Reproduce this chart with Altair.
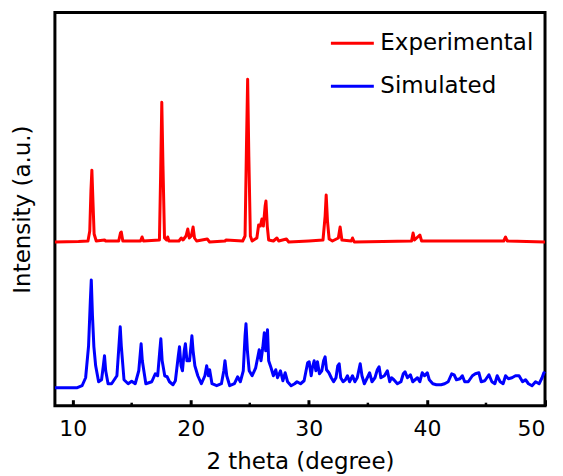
import altair as alt
import pandas as pd

# Experimental pattern: 2theta (degree) and intensity (a.u., offset upward)
exp_x = [8.5, 10.5, 11.3, 11.45, 11.55, 11.63, 11.72, 11.82, 12.0, 12.7, 12.8, 13.9, 14.05, 14.12, 14.25,
         15.75, 15.88, 16.0, 17.35, 17.45, 17.55, 17.65, 17.78, 17.95, 18.05, 18.15, 19.0, 19.2, 19.35,
         19.6, 19.75, 19.88, 20.05, 20.2, 20.32, 20.5, 21.4, 21.6, 22.9, 23.0, 24.4, 24.6, 24.72, 24.82,
         24.92, 25.05, 25.2, 25.6, 25.75, 25.9, 26.03, 26.15, 26.3, 26.37, 26.48, 26.6, 27.0, 27.3, 27.45,
         28.1, 28.3, 30.0, 31.2, 31.38, 31.47, 31.58, 31.72, 32.0, 32.5, 32.65, 32.8, 33.6, 33.7, 33.85,
         38.7, 38.83, 38.95, 39.4, 39.55, 46.5, 46.66, 46.8, 50.0]
exp_y = [164, 164.5, 165, 175, 215, 236, 205, 172, 165, 166, 165, 165, 173, 174, 165,
         165, 169, 165, 166, 230, 304, 240, 168, 166, 169, 165, 165, 168, 166,
         170, 177, 168, 170, 179, 168, 165, 167, 164, 165, 166, 165, 170, 260, 327,
         250, 170, 165, 168, 181, 180, 187, 180, 200, 205, 180, 166, 165, 168, 165,
         167, 164, 165, 166, 190, 211, 185, 167, 165, 168, 179, 166, 165, 168, 164,
         165, 173, 166, 171, 165, 165, 169, 165, 164]

# Simulated pattern
sim_x = [8.5, 10.4, 10.8, 11.1, 11.35, 11.5, 11.58, 11.68, 11.8, 11.95, 12.2, 12.45, 12.6, 12.7, 12.8,
         13.0, 13.3, 13.75, 13.95, 14.03, 14.12, 14.35, 14.7, 15.0, 15.3, 15.6, 15.8, 15.9, 16.2, 16.7,
         17.0, 17.2, 17.38, 17.47, 17.58, 17.8, 18.0, 18.2, 18.5, 18.7, 18.95, 19.05, 19.18, 19.3, 19.45,
         19.55, 19.68, 19.9, 20.1, 20.2, 20.35, 20.45, 20.6, 20.9, 21.2, 21.35, 21.5, 21.6, 21.8, 22.2,
         22.6, 22.8, 22.9, 23.05, 23.3, 23.7, 23.97, 24.2, 24.45, 24.6, 24.68, 24.8, 24.95, 25.2, 25.5,
         25.8, 25.95, 26.1, 26.23, 26.35, 26.5, 26.6, 26.8, 27.0, 27.2, 27.35, 27.6, 27.8, 28.0, 28.2,
         28.5, 28.8, 29.0, 29.3, 29.6, 29.9, 30.03, 30.2, 30.3, 30.45, 30.6, 30.73, 30.9, 31.1, 31.25,
         31.38, 31.5, 31.7, 31.9, 32.1, 32.3, 32.45, 32.57, 32.7, 32.9, 33.1, 33.27, 33.45, 33.7, 33.9,
         34.1, 34.35, 34.5, 34.7, 34.95, 35.15, 35.35, 35.6, 35.8, 35.95, 36.1, 36.4, 36.65, 36.85, 37.0,
         37.2, 37.5, 37.8, 38.0, 38.15, 38.35, 38.6, 38.8, 39.0, 39.2, 39.4, 39.6, 39.8, 40.03, 40.2,
         40.5, 40.8, 41.2, 41.5, 41.8, 42.1, 42.3, 42.5, 42.8, 43.0, 43.2, 43.5, 43.85, 44.1, 44.4,
         44.6, 44.9, 45.25, 45.5, 45.75, 45.95, 46.2, 46.45, 46.66, 46.9, 47.2, 47.5, 47.8, 48.1, 48.35,
         48.6, 48.9, 49.2, 49.5, 49.75, 49.9, 50.0]
sim_y = [18, 18, 20, 28, 60, 105, 126, 90, 59, 40, 24, 26, 40, 50, 35,
         22, 22, 30, 65, 79, 60, 26, 22, 24.5, 22, 35, 62, 45, 22, 24,
         32, 30, 55, 67, 45, 30, 29, 24, 21, 25, 50, 59, 40, 35, 55,
         62, 45, 45, 70, 55, 40, 36, 30, 22, 30, 40, 30, 36, 22, 20,
         22, 35, 45, 30, 20, 22, 29, 24, 35, 70, 82, 55, 35, 30, 38,
         56, 45, 58, 73, 55, 76, 45, 38, 30, 36, 28, 35, 25, 33, 24,
         20, 22, 24, 22, 25, 43, 44, 30, 38, 45, 35, 44, 32, 35, 45,
         49, 36, 33, 28, 24, 28, 40, 42, 28, 24, 26, 30, 24, 30, 24,
         28, 42, 30, 22, 28, 33, 24, 28, 36, 39, 28, 30, 35, 24, 28,
         26, 22, 24, 32, 34, 28, 31, 24, 26, 28, 24, 33, 30, 33, 26,
         22, 21, 21, 22, 24, 32, 31, 26, 27, 30, 24, 24, 30, 32, 33,
         24, 25, 31, 24, 22, 30, 24, 22, 30, 27, 28, 30, 30, 24, 26,
         22, 20, 24, 22, 28, 33, 32]

series_names = ["Experimental", "Simulated"]
series_colors = ["#FF0000", "#0000FF"]
major_ticks = [10, 20, 30, 40, 50]
minor_ticks = [15, 25, 35, 45]

df = pd.concat([
    pd.DataFrame({"x": exp_x, "y": exp_y, "series": series_names[0]}),
    pd.DataFrame({"x": sim_x, "y": sim_y, "series": series_names[1]}),
])
df_minor = pd.DataFrame({"x": minor_ticks})

FONT = "DejaVu Sans"
W, H = 491, 394

xscale = alt.Scale(domain=[8.5, 50], nice=False, zero=False)

lines = alt.Chart(df).mark_line(strokeWidth=3, strokeJoin="round").encode(
    x=alt.X("x:Q", scale=xscale,
            axis=alt.Axis(title="2 theta (degree)", values=major_ticks, format="d",
                          offset=-6, tickSize=6, tickWidth=3, tickColor="black",
                          domain=False, grid=False, labelFontSize=22, labelFont=FONT,
                          labelColor="black", labelPadding=13, titleFont=FONT,
                          titleFontSize=23, titleFontWeight="normal", titleColor="black",
                          titlePadding=11)),
    y=alt.Y("y:Q", scale=alt.Scale(domain=[0, 394], nice=False),
            axis=alt.Axis(title="Intensity (a.u.)", labels=False, ticks=False, domain=False,
                          grid=False, titleFont=FONT, titleFontSize=23,
                          titleFontWeight="normal", titleColor="black", titlePadding=20)),
    color=alt.Color("series:N", scale=alt.Scale(domain=series_names, range=series_colors),
                    legend=alt.Legend(title=None, orient="none", legendX=275, legendY=8,
                                      symbolType="stroke", symbolSize=1849,
                                      symbolStrokeWidth=3, labelFontSize=23, labelFont=FONT,
                                      labelColor="black", labelOffset=5, rowPadding=8,
                                      padding=0)),
    order=alt.Order("x:Q"),
)

minor = alt.Chart(df_minor).mark_rule(color="black", strokeWidth=2.5).encode(
    x=alt.X("x:Q", scale=xscale),
    y=alt.value(H),
    y2=alt.value(H - 3),
)

chart = alt.layer(lines, minor).properties(
    width=W, height=H,
    background="white",
    autosize=alt.AutoSizeParams(type="none"),
    padding={"left": 47, "top": 4, "right": 10, "bottom": 70},
).configure_view(stroke="black", strokeWidth=3)

chart.save("out.html", embed_options={"renderer": "svg", "actions": False})
